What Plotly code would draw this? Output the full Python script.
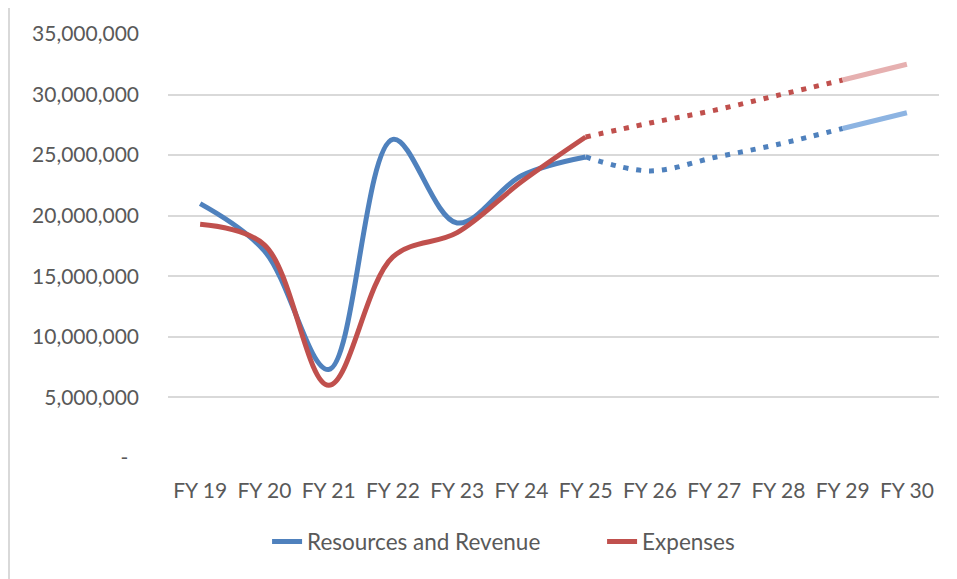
import plotly.graph_objects as go

categories = ["FY 19", "FY 20", "FY 21", "FY 22", "FY 23", "FY 24",
              "FY 25", "FY 26", "FY 27", "FY 28", "FY 29", "FY 30"]
revenue = [21.0e6, 17.1e6, 7.3e6, 26.3e6, 19.4e6, 23.3e6,
           24.85e6, 23.7e6, 24.8e6, 25.9e6, 27.2e6, 28.5e6]
expenses = [19.3e6, 17.6e6, 6.0e6, 16.6e6, 18.6e6, 22.8e6,
            26.5e6, 27.65e6, 28.7e6, 29.95e6, 31.2e6, 32.5e6]
y_ticks = [0, 5e6, 10e6, 15e6, 20e6, 25e6, 30e6, 35e6]
y_tick_text = ["-\u00a0\u00a0", "5,000,000", "10,000,000", "15,000,000",
               "20,000,000", "25,000,000", "30,000,000", "35,000,000"]

actual_end = 6     # FY 25
forecast_end = 10  # FY 29

BLUE = "#4f81bd"
RED = "#c0504d"
LIGHT_BLUE = "#8db4e2"
LIGHT_RED = "#e6b0b0"
FONT = "Lato"
TXT = "#595959"

fig = go.Figure()


def add_series(values, name, color, light):
    fig.add_trace(go.Scatter(
        x=categories[:actual_end + 1], y=values[:actual_end + 1],
        mode="lines", name=name,
        line=dict(color=color, width=5, shape="spline", smoothing=1.0),
        hoverinfo="skip"))
    fig.add_trace(go.Scatter(
        x=categories[actual_end:forecast_end + 1],
        y=values[actual_end:forecast_end + 1],
        mode="lines", showlegend=False,
        line=dict(color=color, width=5, shape="spline", smoothing=1.0,
                  dash="5px,8px"),
        hoverinfo="skip"))
    fig.add_trace(go.Scatter(
        x=categories[forecast_end:], y=values[forecast_end:],
        mode="lines", showlegend=False,
        line=dict(color=light, width=5),
        hoverinfo="skip"))


add_series(revenue, "Resources and Revenue", BLUE, LIGHT_BLUE)
add_series(expenses, "Expenses", RED, LIGHT_RED)

# outer chart border (left and top edges visible)
fig.add_shape(type="rect", xref="paper", yref="paper",
              x0=-0.2062, x1=1.05, y0=-0.35, y1=1.0636,
              line=dict(color="#d9d9d9", width=2), fillcolor="rgba(0,0,0,0)",
              layer="below")

fig.update_layout(
    width=949, height=571,
    margin=dict(l=160, r=18, t=26, b=121),
    paper_bgcolor="white", plot_bgcolor="white",
    font=dict(family=FONT, size=21, color=TXT),
    showlegend=True,
    legend=dict(orientation="h", x=0.1285, xanchor="left",
                y=-0.198, yanchor="middle",
                entrywidth=290, entrywidthmode="pixels",
                font=dict(family=FONT, size=22.5, color=TXT),
                traceorder="normal", tracegroupgap=0),
    xaxis=dict(type="category", categoryorder="array",
               categoryarray=categories, range=[-0.5, 11.5],
               showgrid=False, showline=False, zeroline=False,
               ticks="", ticklabelstandoff=18,
               tickfont=dict(family=FONT, size=21, color=TXT)),
    yaxis=dict(range=[0, 35e6], tickvals=y_ticks, ticktext=y_tick_text,
               showgrid=True, gridcolor="#d9d9d9", gridwidth=1.5,
               zeroline=False, showline=False, ticks="",
               ticklabelstandoff=28,
               tickfont=dict(family=FONT, size=21, color=TXT)),
)

fig.write_html("out.html")
